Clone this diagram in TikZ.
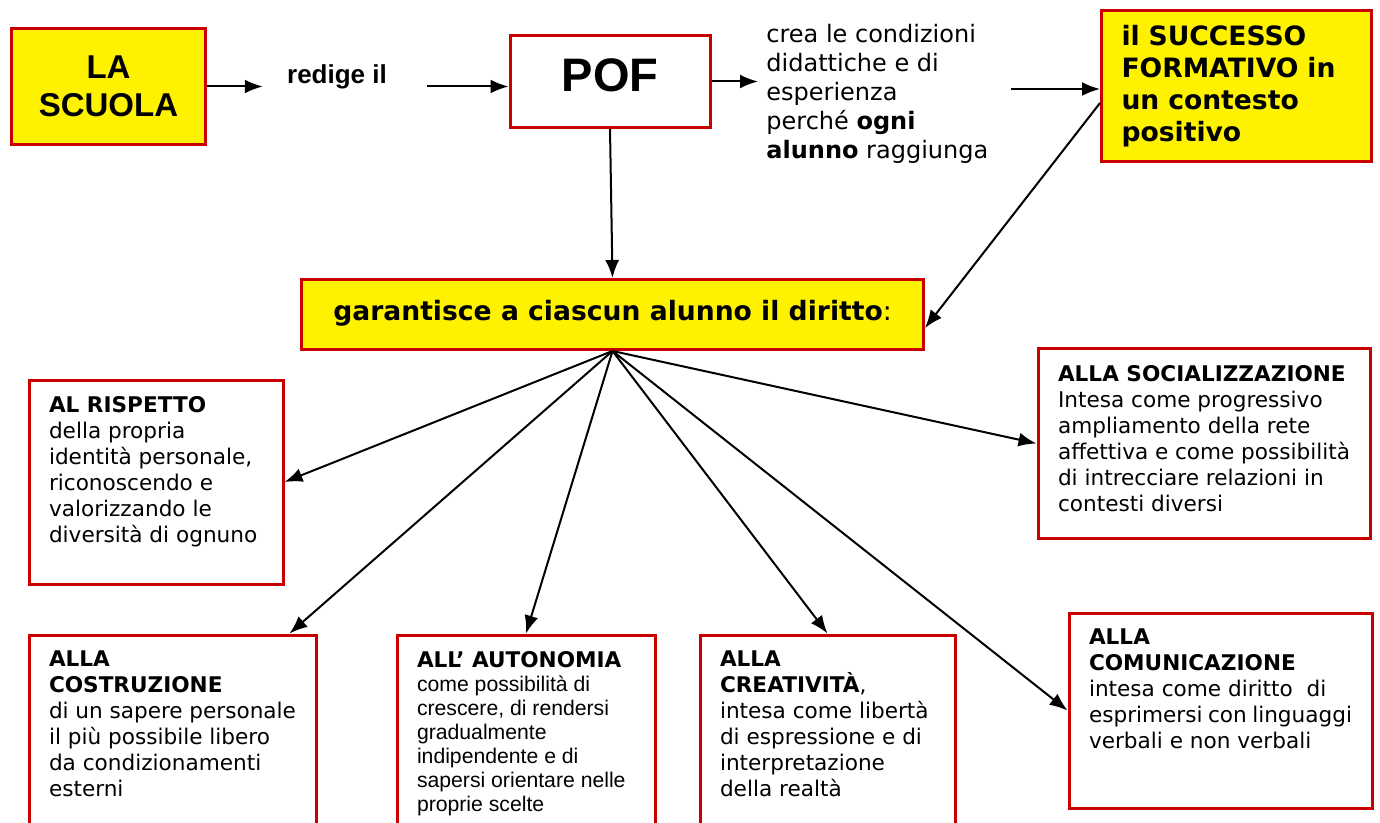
\documentclass[tikz,border=0pt]{standalone}
\usepackage{fontspec}
\setmainfont{DejaVu Sans}
\newfontfamily\arialfont{Liberation Sans}
\usetikzlibrary{arrows,arrows.meta,positioning}
\definecolor{dr}{RGB}{200,0,0}
\newcommand{\boxfont}{\fontsize{10.8}{13}\selectfont}
\tikzset{
    box/.style =    {rectangle,
                    fill=white,
                    draw=dr,
                    text=black,
                    line width=1.5pt},
    ybox/.style =   {box,
                    fill=yellow},
    tbox/.style 2 args = {box,
                    anchor=north west,
                    xshift=.75pt,
                    yshift=-.75pt,
                    inner xsep=10pt,
                    inner ysep=8pt,
                    font=\boxfont,
                    execute at begin node={\begin{minipage}[c][\dimexpr#2pt/2-17.5pt\relax][t]{\dimexpr#1pt/2-21.5pt\relax}},
                    execute at end node={\end{minipage}}},
    -,
    >={Latex[length=9pt,width=7pt]}}

\begin{document}
\begin{tikzpicture}[x=0.5pt,y=-0.5pt]
    \useasboundingbox (0,0) rectangle (1380,823);
    \clip (0,0) rectangle (1380,823);
    % top row
    \node[ybox, minimum width=97pt, minimum height=58pt, align=center,
          font=\arialfont\bfseries\fontsize{16.5}{19}\selectfont] (SC) at (108.5,86.5) {LA\\SCUOLA};
    \node[inner xsep=12pt, font=\arialfont\bfseries\fontsize{13}{15}\selectfont] (RE) at (337,77) {redige il};
    \node[box, minimum width=100pt, minimum height=46pt, text depth=6.5pt,
          font=\arialfont\bfseries\fontsize{23.5}{27}\selectfont] (POF) at (610,81.5) {POF};
    \node[anchor=north west, align=left, inner sep=4pt,
          font=\fontsize{12}{14.5}\selectfont] (CR) at (758,16)
          {crea le condizioni\\didattiche e di\\esperienza\\perché \textbf{ogni}\\\textbf{alunno} raggiunga};
    \node[ybox, minimum width=135pt, minimum height=75.5pt, text width=115pt, inner xsep=10pt, align=left,
          font=\bfseries\fontsize{13.3}{16}\selectfont] (SU) at (1236.5,86)
          {il SUCCESSO\\FORMATIVO in\\un contesto\\positivo};
    \node[ybox, minimum width=311pt, minimum height=35pt, text depth=4pt,
          font=\fontsize{13.3}{16}\selectfont] (G) at (612.5,314.5)
          {\textbf{garantisce a ciascun alunno il diritto}:};
    % i diritti
    \node[tbox={257}{207}] (RI) at (26,377)
          {\textbf{AL RISPETTO}\\della propria\\identità personale,\\riconoscendo e\\valorizzando le\\diversità di ognuno};
    \node[tbox={290}{230}] (CO) at (26,632)
          {\textbf{ALLA}\\\textbf{COSTRUZIONE}\\di un sapere personale\\il più possibile libero\\da condizionamenti\\esterni};
    \node[tbox={261}{230}] (AU) at (394,632)
          {\textbf{ALL’ AUTONOMIA}\\\arialfont\fontsize{10.6}{12}\selectfont come possibilità di\\crescere, di rendersi\\gradualmente\\indipendente e di\\sapersi orientare nelle\\proprie scelte\par};
    \node[tbox={258}{230}] (CT) at (697,632)
          {\textbf{ALLA}\\\textbf{CREATIVITÀ},\\intesa come libertà\\di espressione e di\\interpretazione\\della realtà};
    \node[tbox={306}{198}] (CM) at (1066,610)
          {\textbf{ALLA}\\\textbf{COMUNICAZIONE}\\intesa come diritto\ \ di\\esprimersi con linguaggi\\verbali e non verbali};
    \node[tbox={335}{192}] (SO) at (1035,346)
          {\textbf{ALLA SOCIALIZZAZIONE}\\Intesa come progressivo\\ampliamento della rete\\affettiva e come possibilità\\di intrecciare relazioni in\\contesti diversi};
    % frecce
    \path [line width=1pt,->] (SC.east) edge (SC.east -| RE.west)
                     ([xshift=8pt]RE.east |- SC.east) edge (SC.east -| POF.west)
                     (POF.east) edge (POF.east -| CR.west)
                     ([xshift=7pt,yshift=-1.5pt]CR.east |- SU.west) edge ([yshift=-1.5pt]SU.west)
                     (POF.south) edge (G.north)
                     ([yshift=-8.5pt]SU.west) edge ([yshift=-6.75pt]G.east);
    \path [line width=1pt,->] (G.south) edge (RI.east)
                     (G.south) edge ([xshift=-14pt]CO.north east)
                     (G.south) edge (AU.north)
                     (G.south) edge (CT.north)
                     (G.south) edge (CM.west)
                     (G.south) edge (SO.west);
\end{tikzpicture}
\end{document}
